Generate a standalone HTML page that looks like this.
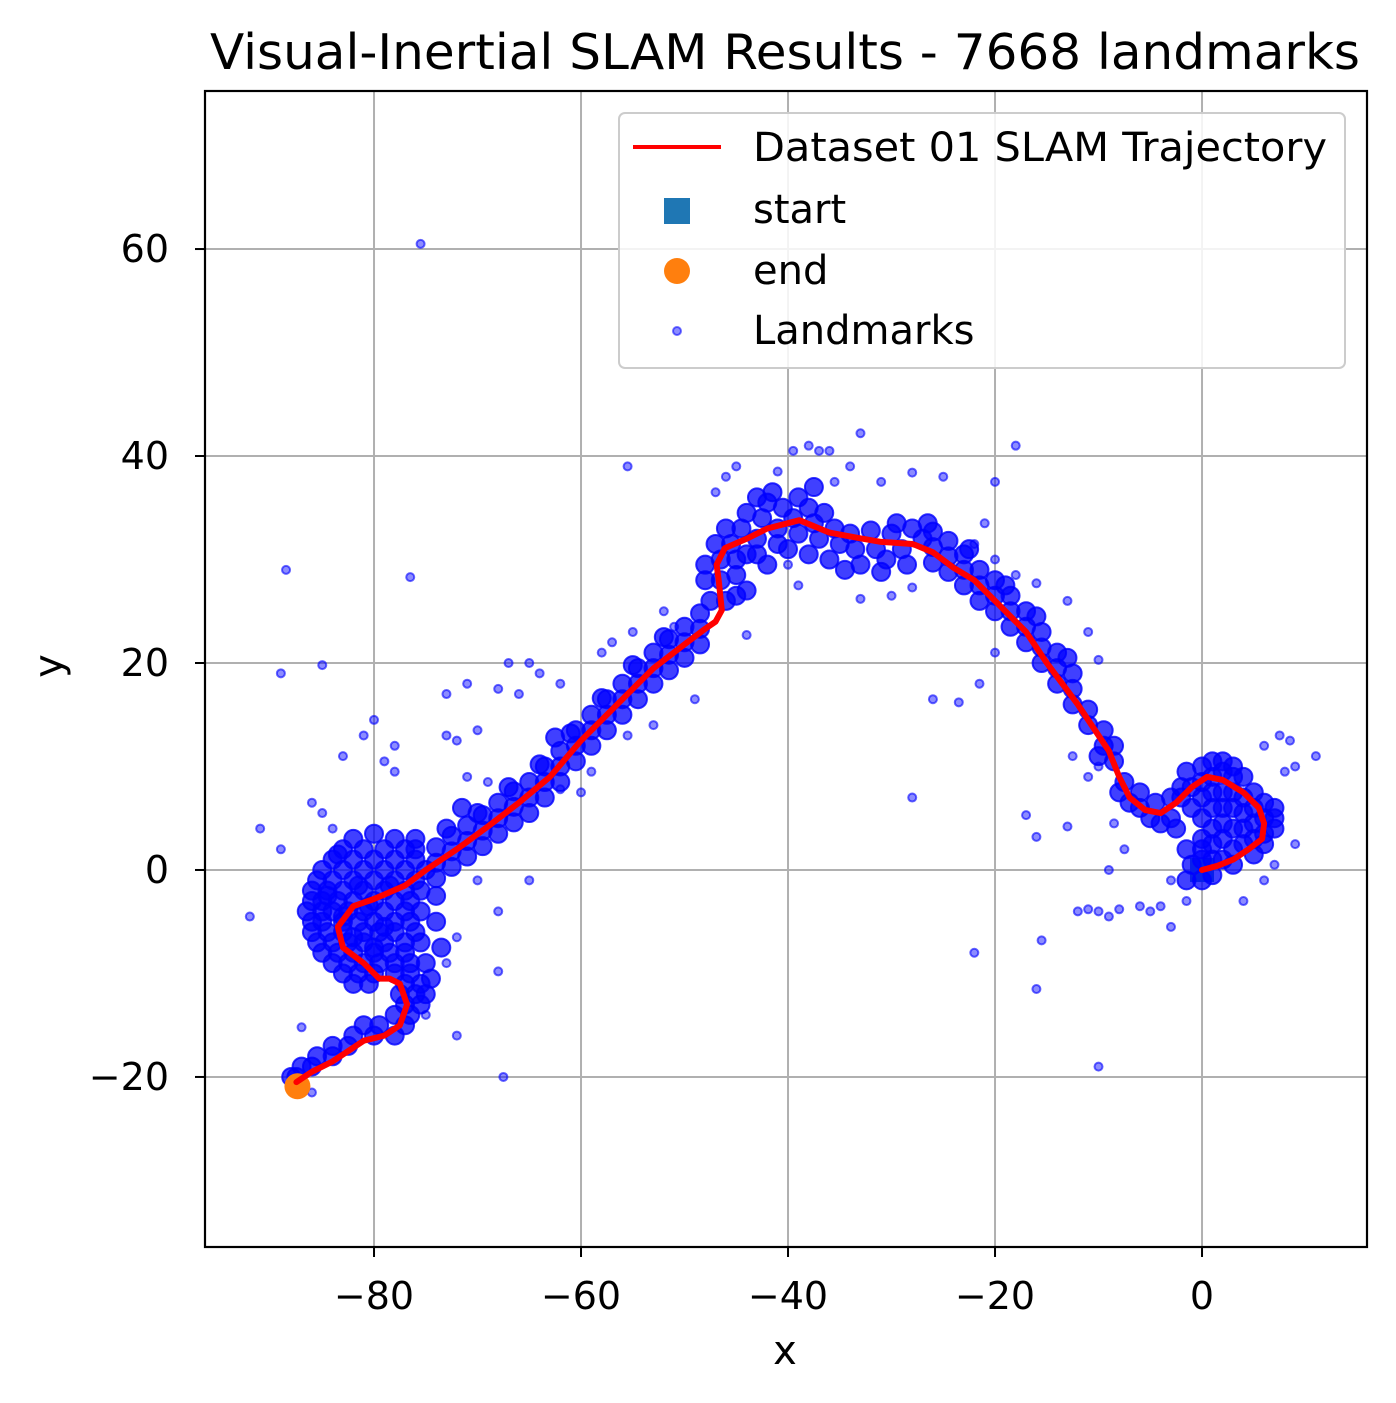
<!DOCTYPE html>
<html><head><meta charset="utf-8"><style>
body{margin:0;background:#fff;}
svg{display:block;font-family:"DejaVu Sans","Liberation Sans",sans-serif;}
</style></head><body>
<svg id="chart" width="1396" height="1403" viewBox="0 0 1396 1403" xmlns="http://www.w3.org/2000/svg">
<rect width="1396" height="1403" fill="#fff"/>
<text x="785" y="69" font-size="49" text-anchor="middle" fill="#000" textLength="1150" lengthAdjust="spacingAndGlyphs">Visual-Inertial SLAM Results - 7668 landmarks</text>
<g id="grid"></g>
<g id="startg"></g>
<g id="lm"></g>
<g id="traj"></g>
<rect x="205" y="91" width="1162" height="1156" fill="none" stroke="#000" stroke-width="2.2"/>
<g id="ticks"></g>
<text x="785" y="1364" font-size="40" text-anchor="middle">x</text>
<text x="62" y="666" font-size="40" text-anchor="middle" transform="rotate(-90 62 666)">y</text>
<g>
<rect x="619" y="113" width="726" height="255" rx="6" fill="#fff" fill-opacity="0.85" stroke="#ccc" stroke-width="2"/>
<line x1="633" y1="147" x2="721" y2="147" stroke="#f00" stroke-width="4"/>
<text x="753" y="161" font-size="40" textLength="574" lengthAdjust="spacingAndGlyphs">Dataset 01 SLAM Trajectory</text>
<rect x="664" y="198" width="26" height="26" fill="#1f77b4"/>
<text x="753" y="223" font-size="40">start</text>
<circle cx="677" cy="271" r="13" fill="#ff7f0e"/>
<text x="753" y="284" font-size="40">end</text>
<circle cx="677" cy="331" r="4" fill="rgba(0,0,255,0.45)" stroke="rgba(0,0,255,0.55)" stroke-width="2"/>
<text x="753" y="344" font-size="40">Landmarks</text>
</g>
</svg>
<script>
const xTicks=[-80,-60,-40,-20,0];
const yTicks=[-20,0,20,40,60];
const trajX=[0,1.5,3,4.5,5.8,6,5.5,4,2,0.5,-1,-2.5,-4,-5.5,-7,-8,-9,-10,-12,-15,-17,-20,-22,-24,-26,-27.7,-28,-31,-33.3,-36,-38.9,-42,-44,-46.1,-46.9,-46.7,-46.4,-47,-48,-50,-53,-56,-60,-63,-66,-69,-72,-75,-77,-80,-82,-83.5,-83,-81,-79.5,-78.5,-77.5,-76.8,-77.5,-79,-81,-84,-86,-87.5];
const trajY=[0,0.4,1,2,3,4.5,6,7.5,8.7,9,8,6.5,5.5,5.8,7,9,11.5,13,16,20,23,26,28,29.2,30.7,31.4,31.5,31.7,32.1,32.6,33.8,33,32,31.1,29.5,28,25.1,24,23.3,21.8,19.5,16.5,12.5,9,6.5,4.2,2,0,-1.5,-2.8,-3.5,-5.5,-7.5,-9,-10.5,-10.5,-11,-13,-15,-16,-16.5,-18.5,-19.5,-20.5];
const endPoint=[-87.4,-20.9];
const startPoint=[0,0];
const clusterSW=[[-83,2],[-81,2],[-79,2],[-77,2],[-84,1],[-82,1],[-80,1],[-78,1],[-76,1],[-85,0],[-83,0],[-81,0],[-79,0],[-77,0],[-75,0],[-85.5,-1],[-84,-1],[-82,-1],[-80,-1],[-78,-1],[-76,-1],[-86,-2],[-84.5,-2],[-83,-2],[-81,-2],[-79,-2],[-77,-2],[-75.5,-2],[-86,-3],[-85,-3],[-83.5,-3],[-82,-3],[-80,-3],[-78,-3],[-76.5,-3],[-86.5,-4],[-85,-4],[-84,-4],[-82.5,-4],[-81,-4],[-79,-4],[-77,-4],[-75.5,-4],[-86,-5],[-85,-5],[-83,-5],[-81.5,-5],[-80,-5],[-78,-5],[-76.5,-5],[-86,-6],[-84.5,-6],[-83,-6],[-81,-6],[-79.5,-6],[-78,-6],[-76,-6],[-85.5,-7],[-84,-7],[-82.5,-7],[-81,-7],[-79,-7],[-77,-7],[-75.5,-7],[-85,-8],[-83.5,-8],[-82,-8],[-80,-8],[-78.5,-8],[-77,-8],[-84,-9],[-82.5,-9],[-81,-9],[-79.5,-9],[-78,-9],[-76.5,-9],[-83,-10],[-81.5,-10],[-80,-10],[-78,-10],[-76.5,-10],[-82,-11],[-80.5,-11],[-77,-11],[-75.5,-11],[-77.5,-12],[-76,-12],[-75,-12],[-77,-13],[-75.5,-13],[-76.5,-14],[-78,-14],[-77,-15],[-79.5,-15],[-81,-15],[-80,-16],[-82,-16],[-78,-16],[-82.5,-17],[-84,-17],[-84,-18],[-85.5,-18],[-86,-19],[-87,-19],[-87.5,-20],[-88,-20],[-84.5,-2.5],[-83,-4.5],[-82,-6.5],[-80,-7.5],[-79,-5.5],[-80.5,-3.5],[-78.5,-1.5],[-81.5,-1.5],[-83.5,1.5],[-80,3.5],[-78,3],[-82,3],[-76,3],[-74,-2.5],[-74,-5],[-73.5,-7.5],[-75,-9],[-74.5,-10.5]];
const bandLower=[[-74,-0.8],[-74,0.7],[-74,2.2],[-72.5,0.3],[-72.5,1.8],[-72.5,3.3],[-71,1.3],[-71,2.8],[-71,4.3],[-69.5,2.3],[-69.5,3.8],[-69.5,5.3],[-68,3.5],[-68,5],[-68,6.5],[-66.5,4.6],[-66.5,6.1],[-66.5,7.6],[-65,5.5],[-65,7],[-65,8.5],[-63.5,7],[-63.5,8.5],[-63.5,10],[-62,8.5],[-62,10],[-62,11.5],[-60.5,10.5],[-60.5,12],[-60.5,13.5],[-59,12],[-59,13.5],[-59,15],[-57.5,13.5],[-57.5,15],[-57.5,16.5],[-56,15],[-56,16.5],[-56,18],[-54.5,16.5],[-54.5,18],[-54.5,19.5],[-53,18],[-53,19.5],[-53,21],[-51.5,19.3],[-51.5,20.8],[-51.5,22.3],[-50,20.5],[-50,22],[-50,23.5],[-48.5,21.8],[-48.5,23.3],[-48.5,24.8],[-70,5.5],[-67,8],[-64,10.2],[-61,13.2],[-58,16.6],[-55,19.8],[-52,22.5],[-73,4],[-76,2],[-71.5,6],[-62.5,12.8]];
const clusterPeak=[[-47.5,26],[-46,26],[-45,26.5],[-48,28],[-46.5,28],[-45,28.5],[-48,29.5],[-46.5,30],[-45,30],[-47,31.5],[-45.5,31.5],[-44,30.5],[-46,33],[-44.5,33],[-43,32],[-43,30.5],[-44,34.5],[-42.5,34],[-41,33],[-41,31.5],[-42,35.5],[-40.5,35],[-39.5,34],[-39,32.5],[-40,31],[-39,36],[-38,35],[-37.5,33.5],[-37,32],[-38,30.5],[-36.5,34.5],[-35.5,33],[-35,31.5],[-36,30],[-34,32.5],[-33.5,31],[-33,29.5],[-32,32.8],[-31.5,31],[-30.5,30],[-30,32.5],[-29,31],[-28.5,29.5],[-28,33],[-27,32],[-26.5,33.5],[-42,29.5],[-34.5,29],[-31,28.8],[-44,27],[-41.5,36.5],[-37.5,37],[-43,36],[-29.5,33.5]];
const bandUpper=[[-26,29.7],[-26,31.2],[-26,32.7],[-24.5,28.8],[-24.5,30.3],[-24.5,31.8],[-23,27.5],[-23,29],[-23,30.5],[-21.5,26],[-21.5,27.5],[-21.5,29],[-20,25],[-20,26.5],[-20,28],[-18.5,23.5],[-18.5,25],[-18.5,26.5],[-17,22],[-17,23.5],[-17,25],[-15.5,20],[-15.5,21.5],[-15.5,23],[-14,18],[-14,19.5],[-14,21],[-12.5,16],[-12.5,17.5],[-12.5,19],[-11,14],[-11,15.5],[-9.5,12],[-9.5,13.5],[-8.5,10.5],[-8.5,12],[-7.5,8.5],[-7,6.5],[-6,6],[-5,5],[-4,4.5],[-3,5],[-4.5,6.5],[-6,7.5],[-8,7.5],[-10,11],[-19,27.5],[-13,20.5],[-22.5,31],[-16,24.5]];
const clusterEast=[[0,1],[1,1],[2,1],[3,2],[4,2.5],[5,3],[6,3.5],[0,2],[1,2.5],[2,3],[0,3],[1,4],[2,4.5],[3,4],[4,4],[5,4.5],[6,5],[7,5],[0,5],[1,6],[2,6],[3,6],[4,5.5],[5,6],[6,6.5],[7,6],[-1,6],[0,7],[1,7.5],[2,7.5],[3,7.5],[4,7],[5,7.5],[0,8.5],[1,9],[2,9.5],[3,9],[4,9],[-1,8],[-1.5,9.5],[0,10],[1,10.5],[2,10.5],[3,10],[-2,7],[-2.5,4],[-1.5,2],[-1,0.5],[-1.5,-1],[0,-1],[1,-0.5],[3,0.5],[5,1.5],[6,2.5],[7,4],[-2,8],[-3,7]];
const outliers=[[-75.5,60.5],[-88.5,29],[-76.5,28.3],[-89,19],[-85,19.8],[-91,4],[-92,-4.5],[-89,2],[-28,7],[-22,-8],[-16,-11.5],[-10,-19],[-67.5,-20],[-55.5,39],[-18,41],[-20,37.5],[-33,42.2],[-16,3.2],[-15.5,-6.8],[-13,4.2],[-17,5.3],[-10,-4],[-11,-3.8],[-12,-4],[-9,-4.5],[-8,-3.8],[-6,-3.5],[-5,-4],[-3,-5.5],[-4,-3.5],[-9,0],[-7.5,2],[-8.5,4.5],[-10,10],[-11,9],[-12.5,11],[11,11],[9,10],[8.5,12.5],[7.5,13],[6,12],[8,9.5],[9,2.5],[7,0.5],[6,-1],[4,-3],[-3,-1],[-1.5,-3],[-68,17.5],[-66,17],[-64,19],[-62,18],[-65,20],[-67,20],[-70,13.5],[-72,12.5],[-73,17],[-71,18],[-69,8.5],[-71,9],[-73,13],[-78,12],[-80,14.5],[-81,13],[-79,10.5],[-78,9.5],[-83,11],[-86,6.5],[-85,5.5],[-84,4],[-87,-15.2],[-86,-21.5],[-72,-16],[-75,-14],[-73,-9],[-72,-6.5],[-68,-4],[-68,-9.8],[-70,-1],[-65,-1],[-59,9.5],[-60,7.5],[-62,7.8],[-58,21],[-57,22],[-55,23],[-52,25],[-51,23.5],[-49,16.5],[-53,14],[-55.5,13],[-44,22.7],[-40,29.5],[-39,27.5],[-33,26.2],[-30,26.5],[-28,27.3],[-26,16.5],[-23.5,16.2],[-21.5,18],[-20,21],[-13,26],[-11,23],[-10,20.3],[-21,33.5],[-25,38],[-28,38.4],[-35.5,37.5],[-38,41],[-37,40.5],[-36,40.5],[-41,38.5],[-45,39],[-46,38],[-47,36.5],[-39.5,40.5],[-34,39],[-31,37.5],[-16,27.7],[-18,28.5],[-20,30],[-22,31.5]];

const NS="http://www.w3.org/2000/svg";
const X0=205,X1=1367,Y0=91,Y1=1247;
const xMin=-96.33,xMax=15.94,yMin=-36.43,yMax=75.27;
function sx(v){return X0+(v-xMin)/(xMax-xMin)*(X1-X0);}
function sy(v){return Y1-(v-yMin)/(yMax-yMin)*(Y1-Y0);}
function mk(tag,attrs,parent){const e=document.createElementNS(NS,tag);for(const k in attrs)e.setAttribute(k,attrs[k]);parent.appendChild(e);return e;}
const grid=document.getElementById('grid'),ticks=document.getElementById('ticks');
xTicks.forEach(t=>{const x=sx(t);
 const g=mk('line',{x1:x,x2:x,y1:Y0,y2:Y1,stroke:'#b0b0b0','stroke-width':2},grid);
 
 
 const tk=mk('line',{x1:x,x2:x,y1:Y1,y2:Y1+10,stroke:'#000','stroke-width':2},ticks);
 
 
 const lb=mk('text',{x:x,y:Y1+62,'font-size':38,'text-anchor':'middle'},ticks);
 lb.textContent=(t<0?'\u2212'+(-t):t);
 
 
});
yTicks.forEach(t=>{const y=sy(t);
 const g=mk('line',{x1:X0,x2:X1,y1:y,y2:y,stroke:'#b0b0b0','stroke-width':2},grid);
 
 
 const tk=mk('line',{x1:X0-10,x2:X0,y1:y,y2:y,stroke:'#000','stroke-width':2},ticks);
 
 
 const lb=mk('text',{x:X0-36,y:y+13,'font-size':38,'text-anchor':'end'},ticks);
 lb.textContent=(t<0?'\u2212'+(-t):t);
 
 
});
const sg=document.getElementById('startg');
const s=mk('rect',{x:sx(startPoint[0])-12,y:sy(startPoint[1])-12,width:24,height:24,fill:'#1f77b4'},sg);


const lm=document.getElementById('lm');
[clusterSW,bandLower,clusterPeak,bandUpper,clusterEast].forEach(arr=>arr.forEach(p=>{
 const c=mk('circle',{cx:sx(p[0]),cy:sy(p[1]),r:9,fill:'rgba(0,0,255,0.75)',stroke:'rgba(0,0,255,0.8)','stroke-width':2},lm);
 
 
}));
outliers.forEach(p=>{
 const c=mk('circle',{cx:sx(p[0]),cy:sy(p[1]),r:4,fill:'rgba(0,0,255,0.45)',stroke:'rgba(0,0,255,0.6)','stroke-width':2},lm);
 
 
});
const tr=document.getElementById('traj');
let d='';trajX.forEach((x,i)=>{d+=(i?'L':'M')+sx(x).toFixed(1)+','+sy(trajY[i]).toFixed(1);});
const e=mk('circle',{cx:sx(endPoint[0]),cy:sy(endPoint[1]),r:13,fill:'#ff7f0e'},tr);


const pth=mk('path',{d:d,fill:'none',stroke:'#f00','stroke-width':6,'stroke-linejoin':'round','stroke-linecap':'round'},tr);


</script>
</body></html>
